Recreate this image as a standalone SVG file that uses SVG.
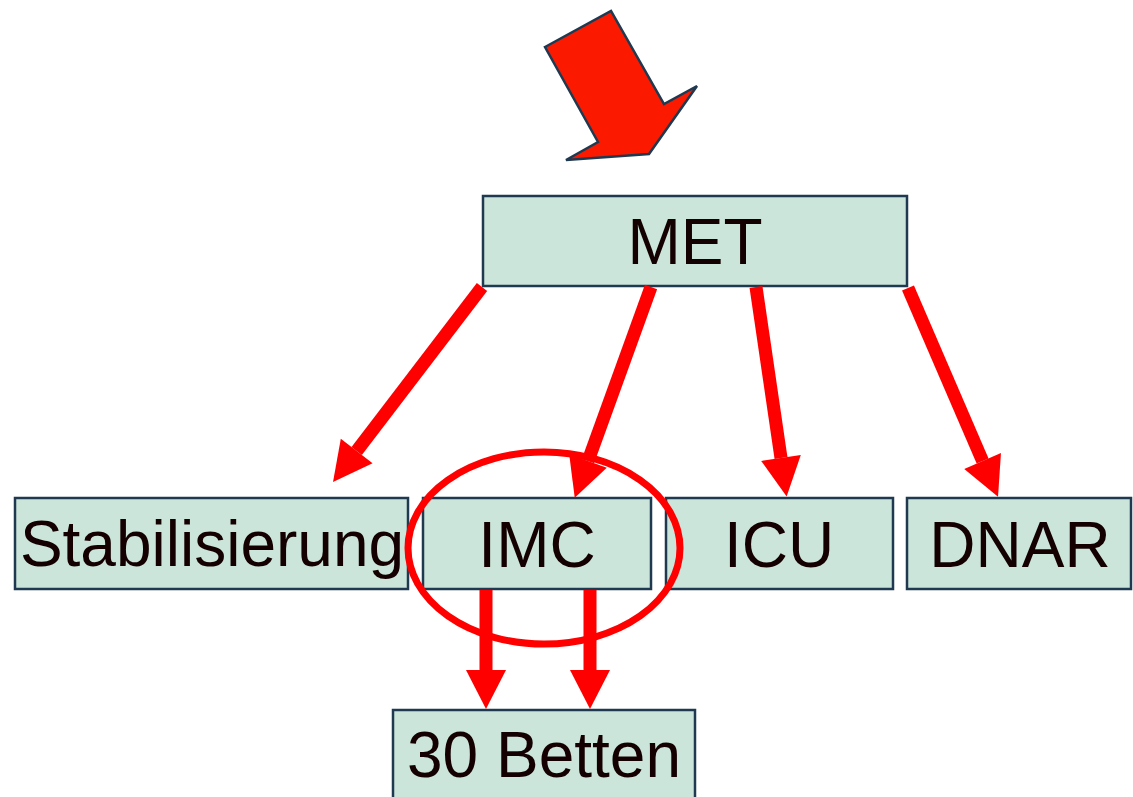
<svg xmlns="http://www.w3.org/2000/svg" width="1133" height="797" viewBox="0 0 1133 797">
<defs>
<style>
.box{fill:#CCE5DA;stroke:#1F3A50;stroke-width:2.5}
.lbl{font-family:"Liberation Sans",Arial,sans-serif;font-size:64px;fill:#140000;text-anchor:middle}
.conn{stroke:#FF0000;stroke-width:13;fill:none;marker-end:url(#head)}
</style>
<marker id="head" markerUnits="userSpaceOnUse" markerWidth="40" markerHeight="40" viewBox="0 -20 40 40" refX="0" refY="0" orient="auto" overflow="visible">
<path d="M0,-20 L39,0 L0,20 Z" fill="#FF0000"/>
</marker>
</defs>
<rect width="1133" height="797" fill="#FFFFFF"/>
<polygon id="big-arrow" points="545,47 611,11 664,104 697,86 649,154 566,160 598,142" fill="#FB1A00" stroke="#1F3A50" stroke-width="2.5" stroke-linejoin="miter"/>
<g id="node-met"><rect class="box" x="483" y="196" width="424" height="90"/><text class="lbl" x="695" y="264">MET</text></g>
<g id="node-stabilisierung"><rect class="box" x="15" y="498" width="393" height="91"/><text class="lbl" x="212" y="566">Stabilisierung</text></g>
<g id="node-imc"><rect class="box" x="423" y="498" width="228" height="91"/><text class="lbl" x="537" y="567">IMC</text></g>
<g id="node-icu"><rect class="box" x="666" y="498" width="227" height="91"/><text class="lbl" x="779" y="567">ICU</text></g>
<g id="node-dnar"><rect class="box" x="907" y="498" width="224" height="91"/><text class="lbl" x="1020" y="567">DNAR</text></g>
<g id="node-betten"><rect class="box" x="393" y="710" width="302" height="95"/><text class="lbl" x="544" y="777">30 Betten</text></g>
<g id="highlight"><ellipse cx="544" cy="548" rx="136" ry="96" fill="none" stroke="#FF0000" stroke-width="7"/></g>
<g id="connectors">
<line class="conn" x1="482" y1="287" x2="356.7" y2="451"/>
<line class="conn" x1="651" y1="287" x2="588" y2="461"/>
<line class="conn" x1="756" y1="287" x2="781" y2="458"/>
<line class="conn" x1="908" y1="288" x2="982.6" y2="461"/>
<line class="conn" x1="486" y1="590" x2="486" y2="670"/>
<line class="conn" x1="590" y1="590" x2="590" y2="670"/>
</g>
</svg>
